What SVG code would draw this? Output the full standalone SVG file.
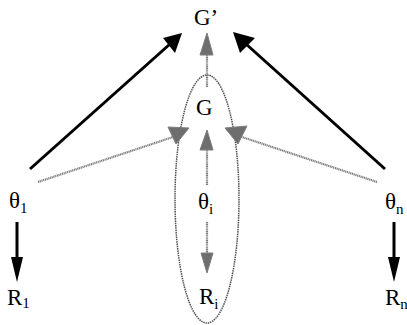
<svg xmlns="http://www.w3.org/2000/svg" width="407" height="325" viewBox="0 0 407 325">
<style>
.t{font-family:"Liberation Serif","Times New Roman",serif;font-size:23px;fill:#000}
.s{font-size:15px}
.blk{stroke:#000;stroke-width:3;fill:none}
.gry{stroke:#7d7d7d;stroke-width:2.2;fill:none;stroke-dasharray:1.2 0.6}
.gh{fill:#6e6e6e;stroke:#7d7d7d;stroke-width:1}
.bh{fill:#000}
</style>
<rect width="407" height="325" fill="#fff"/>
<g id="ellipse">
<ellipse cx="207" cy="199" rx="32" ry="124" fill="none" stroke="#505050" stroke-width="1.5" stroke-dasharray="1.5 0.8"/>
</g>
<g id="connectors">
<line class="blk" x1="30" y1="169" x2="170" y2="44"/>
<polygon class="bh" points="182,33 163,38 175,53"/>
<line class="blk" x1="385" y1="169" x2="246" y2="44"/>
<polygon class="bh" points="233,32 255,38 240,53"/>
<line class="gry" x1="38" y1="182" x2="176" y2="136"/>
<polygon class="gh" points="168,127 189,128 176,144"/>
<line class="gry" x1="377" y1="182" x2="239" y2="136"/>
<polygon class="gh" points="225,128 247,126 238,144"/>
<line class="gry" x1="207" y1="87" x2="207" y2="54"/>
<polygon class="gh" points="207,33 200,55 213,55"/>
<line class="gry" x1="207" y1="185" x2="207" y2="149"/>
<polygon class="gh" points="207,130 200,150 213,150"/>
<line class="gry" x1="207" y1="222" x2="207" y2="254"/>
<polygon class="gh" points="207,273 201,253 213,253"/>
<line class="blk" x1="17" y1="222" x2="17" y2="258"/>
<polygon class="bh" points="17,282 11,257 23,257"/>
<line class="blk" x1="394" y1="222" x2="394" y2="258"/>
<polygon class="bh" points="394,282 388,257 400,257"/>
</g>
<g id="Gprime"><text class="t" x="194" y="25">G’</text></g>
<g id="G"><text class="t" x="196" y="115">G</text></g>
<g id="theta1"><text class="t" x="9" y="208">θ<tspan class="s" dy="5">1</tspan></text></g>
<g id="thetai"><text class="t" x="198" y="209">θ<tspan class="s" dy="5">i</tspan></text></g>
<g id="thetan"><text class="t" x="385" y="209">θ<tspan class="s" dy="5">n</tspan></text></g>
<g id="R1"><text class="t" x="7" y="305">R<tspan class="s" dy="3">1</tspan></text></g>
<g id="Ri"><text class="t" x="199" y="304">R<tspan class="s" dy="5">i</tspan></text></g>
<g id="Rn"><text class="t" x="385" y="305">R<tspan class="s" dy="4">n</tspan></text></g>
</svg>
